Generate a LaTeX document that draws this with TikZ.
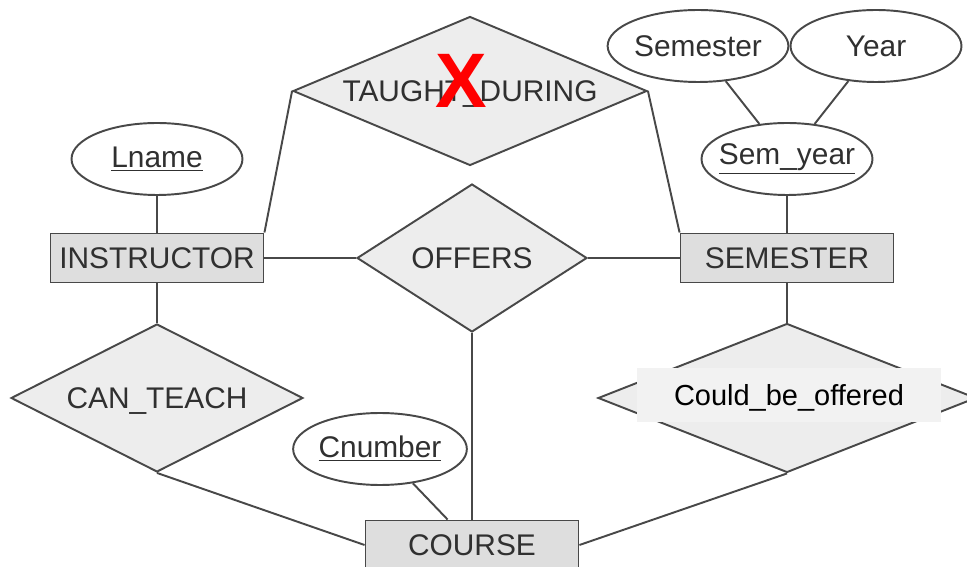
\documentclass[tikz,border=0pt]{standalone}
\usepackage{fontspec}
\setmainfont{Liberation Sans}
\usetikzlibrary{shapes.geometric}
\definecolor{edgegray}{HTML}{484848}
\definecolor{textgray}{HTML}{303030}
\definecolor{entfill}{HTML}{DEDEDE}
\definecolor{relfill}{HTML}{EDEDED}
\definecolor{boxfill}{HTML}{F2F2F2}

\begin{document}
\begin{tikzpicture}[x=0.02cm, y=-0.02cm,
    every node/.style={font=\fontsize{17}{20}\selectfont, text=textgray},
    entity/.style={draw=edgegray, line width=1.1pt, fill=entfill, minimum width=4.26cm, minimum height=0.98cm, inner sep=0pt},
    attrib/.style={draw=edgegray, ellipse, line width=1.1pt, fill=white, minimum width=3.42cm, minimum height=1.44cm, inner sep=0pt},
    relship/.style={draw=edgegray, diamond, line width=1.1pt, fill=relfill, inner sep=0pt, text depth=0pt, aspect=2.4},
    link/.style={draw=edgegray, line width=1.1pt}]
            \useasboundingbox (0,0) rectangle (967,567);

            % entities
            \node[entity] (instr) at (157,258) {INSTRUCTOR};
            \node[entity] (sem) at (787,258) {SEMESTER};
            \node[entity] (course) at (472,545) {COURSE};

            % attributes
            \node[attrib] (lname) at (157,159) {\underline{Lname}};
            \node[attrib, inner xsep=-0.2cm] (semyear) at (787,159) {\underline{Sem\_year}};
            \node[attrib] (semester) at (698,46) {Semester};
            \node[attrib] (year) at (876,46) {Year};
            \node[attrib] (cnumber) at (380,449) {\underline{Cnumber}};

            % relationships
            \node[relship, minimum width=7.08cm, minimum height=2.98cm] (taught) at (470,91) {TAUGHT\_DURING};
            \node[relship, minimum width=4.60cm, minimum height=2.96cm] (offers) at (472,258) {OFFERS};
            \node[relship, minimum width=5.84cm, minimum height=2.96cm] (canteach) at (157,398) {CAN\_TEACH};
            \node[relship, minimum width=7.56cm, minimum height=2.98cm] (cbo) at (787,398) {};
            \node[fill=boxfill, minimum width=6.08cm, minimum height=1.1cm, inner sep=0pt, text depth=0pt, text=black,
                  font=\fontsize{16.5}{20}\selectfont] (cbolabel) at (789,395) {Could\_be\_offered};
            \node[text=red, inner sep=0pt, font=\bfseries\fontsize{44}{44}\selectfont] (cross) at (461,81) {X};

            \draw[link] (lname) -- (instr);
            \draw[link] (taught.west) -- (instr.north east);
            \draw[link] (taught.east) -- (sem.north west);
            \draw[link] (instr) -- (offers);
            \draw[link] (offers) -- (sem);
            \draw[link] (offers) -- (course);
            \draw[link] (semester) -- (semyear);
            \draw[link] (year) -- (semyear);
            \draw[link] (semyear) -- (sem);
            \draw[link] (instr) -- (canteach);
            \draw[link] (sem) -- (cbo);
            \draw[link] (cnumber) -- (course);
            \draw[link] (canteach.south) -- (course.west);
            \draw[link] (cbo.south) -- (course.east);
          \end{tikzpicture}
\end{document}
